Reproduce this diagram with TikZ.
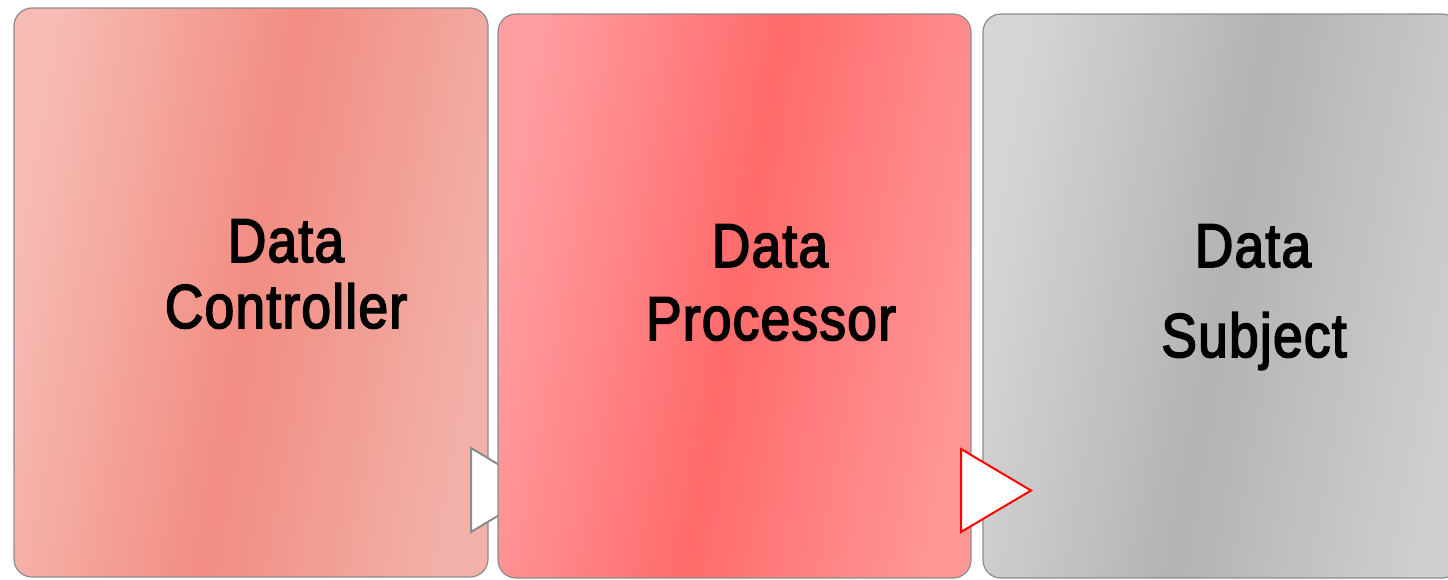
\documentclass[tikz,border=0pt]{standalone}
\usepackage{fontspec}
\setmainfont[FakeStretch=0.86,FakeBold=2.6,LetterSpace=2.0]{Liberation Sans}
\definecolor{ctrlL}{HTML}{F6BCB4}
\definecolor{ctrlM}{HTML}{F28D82}
\definecolor{ctrlR}{HTML}{F2B2AA}
\definecolor{procL}{HTML}{FF9EA2}
\definecolor{procM}{HTML}{FF6B6B}
\definecolor{procR}{HTML}{FF9797}
\definecolor{subjL}{HTML}{D6D6D6}
\definecolor{subjM}{HTML}{B3B3B3}
\definecolor{subjR}{HTML}{CFCFCF}
\definecolor{rim}{HTML}{8C8C8C}
\begin{document}
\begin{tikzpicture}[x=1pt,y=-1pt,
  box/.style={draw=rim,line width=1.2pt,rounded corners=18pt},
  lbl/.style={font=\fontsize{62}{70}\selectfont,anchor=base,inner sep=0pt},
  tri/.style={fill=white,line width=2pt,line join=miter}]
\useasboundingbox (0,0) rectangle (1448,579);
%boxes
\shade[box,left color=ctrlL,right color=ctrlR,middle color=ctrlM,shading angle=80] (14,8) rectangle (488,577);
\draw[tri,draw=rim] (471,448)--(541,490)--(471,532)--cycle;
\shade[box,left color=procL,right color=procR,middle color=procM,shading angle=80] (498,14) rectangle (971,578);
\shade[box,left color=subjL,right color=subjR,middle color=subjM,shading angle=80] (983,14) rectangle (1460,578);
\draw[tri,draw=red] (961,449)--(1031,490.5)--(961,532)--cycle;
%labels
\node[lbl] (ctrl1) at (286,262) {Data};
\node[lbl] (ctrl2) at (286,328) {Controller};
\node[lbl] (proc1) at (770,267) {Data};
\node[lbl] (proc2) at (771,340) {Processor};
\node[lbl] (subj1) at (1253,267) {Data};
\node[lbl] (subj2) at (1254,357) {Subject};
\end{tikzpicture}
\end{document}
